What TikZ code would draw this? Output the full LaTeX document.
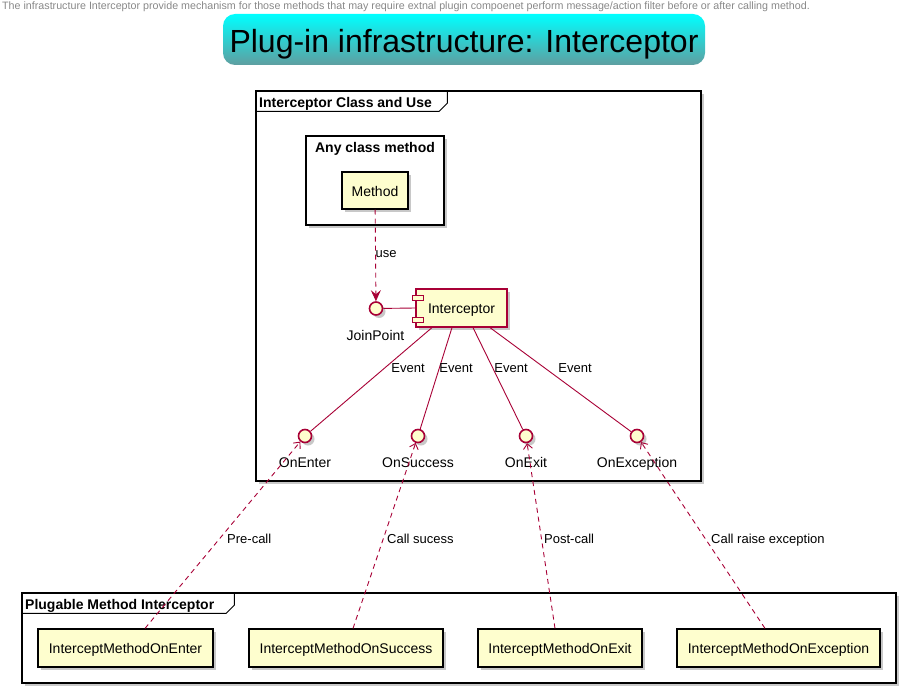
\documentclass[tikz,border=0pt]{standalone}
\usepackage{fontspec}
\setmainfont{Liberation Sans}
\usetikzlibrary{shadows,arrows.meta,calc}
\definecolor{umlRed}{HTML}{A80036}
\definecolor{umlFill}{HTML}{FEFECE}
\definecolor{capGray}{HTML}{888888}
\definecolor{titleTop}{HTML}{00FFFF}
\definecolor{titleBot}{HTML}{5F9EA0}

\begin{document}
\begin{tikzpicture}[x=1pt,y=-1pt,
    softshadow/.style={drop shadow={shadow xshift=3pt,shadow yshift=-3pt,opacity=0.3,fill=black!70}},
    umlframe/.style={draw=black,line width=1.5pt,fill=white,softshadow,inner sep=0pt},
    umlbox/.style={draw=black,line width=1.2pt,fill=umlFill,softshadow,inner sep=0pt,text height=11pt,text depth=0pt,font=\fontsize{14}{16}\selectfont},
    comp/.style={draw=umlRed,line width=1.2pt,fill=umlFill,softshadow,inner sep=0pt,text height=11pt,text depth=0pt,font=\fontsize{14}{16}\selectfont},
    iface/.style={circle,draw=umlRed,line width=1.6pt,fill=umlFill,softshadow,minimum size=13pt,inner sep=0pt},
    link/.style={draw=umlRed,line width=0.9pt},
    dep/.style={link,dash pattern=on 5pt off 4pt},
    lbl/.style={font=\fontsize{13}{15}\selectfont,inner sep=0pt,text height=11pt,text depth=0pt},
    ilbl/.style={font=\fontsize{14}{16}\selectfont,inner sep=0pt,text height=11.5pt,text depth=0pt},
    ftitle/.style={font=\bfseries\fontsize{14}{16}\selectfont,inner sep=0pt,text height=10.5pt,text depth=0pt}]
    \useasboundingbox (0,0) rectangle (905,693);

    % header and title
    \node[anchor=west,text=capGray,font=\fontsize{10.7}{12}\selectfont,inner sep=0pt] (caption) at (2,7)
      {The infrastructure Interceptor provide mechanism for those methods that may require extnal plugin compoenet perform message/action filter before or after calling method.};
    \node[rounded corners=12pt,top color=titleTop,bottom color=titleBot,minimum width=482pt,minimum height=51pt,
      inner sep=0pt,text height=33pt,text depth=6pt,font=\fontsize{32}{36}\selectfont] (title) at (464,39.5) {Plug-in infrastructure: Interceptor};

    % upper frame
    \node[umlframe,minimum width=445pt,minimum height=390pt] (useFrame) at (478.5,286) {};
    \draw[line width=1pt] (useFrame.north west) ++(0,21) -- ++(184,0) -- ++(8,-8) -- ++(0,-13);
    \node[ftitle,anchor=west] (useTitle) at (259,102) {Interceptor Class and Use};

    \node[draw=black,line width=1.5pt,fill=white,softshadow,minimum width=138pt,minimum height=89pt,inner sep=0pt] (anyBox) at (375,180.5) {};
    \node[ftitle] (anyTitle) at (375,147) {Any class method};
    \node[umlbox,minimum width=66pt,minimum height=37pt] (method) at (375,190.5) {Method};

    \node[iface] (joinPoint) at (376,308.5) {};
    \node[ilbl] (joinLbl) at (375.5,335) {JoinPoint};
    \node[comp,minimum width=91pt,minimum height=38pt] (intc) at (461.5,308) {Interceptor};
    % component ports
    \foreach \py in {297.5,319.5}
      \draw[umlRed,line width=1pt,fill=umlFill] (412,\py-2.5) rectangle (423,\py+2.5);

    \draw[link] (joinPoint) -- (intc.west);
    \draw[dep,-{Stealth[length=11pt,width=10pt,inset=4pt]}] (method) -- (joinPoint);
    \node[lbl] (useLbl) at (386,252) {use};

    % events
    \foreach \nm/\px/\txt in {onEnter/305/OnEnter,onSuccess/418/OnSuccess,onExit/526/OnExit,onExc/637/OnException} {
      \node[iface] (\nm) at (\px,436) {};
      \node[ilbl] (\nm Lbl) at (\px,462) {\txt};
    }
    \draw[link] ([xshift=-29.5pt]intc.south) -- (onEnter);
    \draw[link] ([xshift=-9.5pt]intc.south) -- (onSuccess);
    \draw[link] ([xshift=11.5pt]intc.south) -- (onExit);
    \draw[link] ([xshift=28.5pt]intc.south) -- (onExc);
    \foreach \nm/\px in {evEnter/408,evSuccess/456,evExit/511,evExc/575}
      \node[lbl] (\nm) at (\px,367) {Event};

    % lower frame
    \node[umlframe,minimum width=874pt,minimum height=90pt] (plugFrame) at (459,638) {};
    \draw[line width=1pt] (plugFrame.north west) ++(0,21) -- ++(205,0) -- ++(8,-8) -- ++(0,-13);
    \node[ftitle,anchor=west] (plugTitle) at (25,604) {Plugable Method Interceptor};

    \node[umlbox,minimum width=175pt,minimum height=38pt] (mEnter) at (125.5,648) {InterceptMethodOnEnter};
    \node[umlbox,minimum width=194pt,minimum height=38pt] (mSuccess) at (346,648) {InterceptMethodOnSuccess};
    \node[umlbox,minimum width=164pt,minimum height=38pt] (mExit) at (560,648) {InterceptMethodOnExit};
    \node[umlbox,minimum width=203pt,minimum height=38pt] (mExc) at (778.5,648) {InterceptMethodOnException};

    % plug-in calls
    \draw[dep,-{Straight Barb[length=5pt,width=9pt]}] ([xshift=19.5pt]mEnter.north) -- (onEnter);
    \draw[dep,-{Straight Barb[length=5pt,width=9pt]}] ([xshift=7pt]mSuccess.north) -- (onSuccess);
    \draw[dep,-{Straight Barb[length=5pt,width=9pt]}] ([xshift=-5pt]mExit.north) -- (onExit);
    \draw[dep,-{Straight Barb[length=5pt,width=9pt]}] ([xshift=-13.5pt]mExc.north) -- (onExc);
    \node[lbl,anchor=west] (preLbl) at (227,538) {Pre-call};
    \node[lbl,anchor=west] (sucLbl) at (387,538) {Call sucess};
    \node[lbl,anchor=west] (postLbl) at (544,538) {Post-call};
    \node[lbl,anchor=west] (excLbl) at (711,538) {Call raise exception};
\end{tikzpicture}
\end{document}
